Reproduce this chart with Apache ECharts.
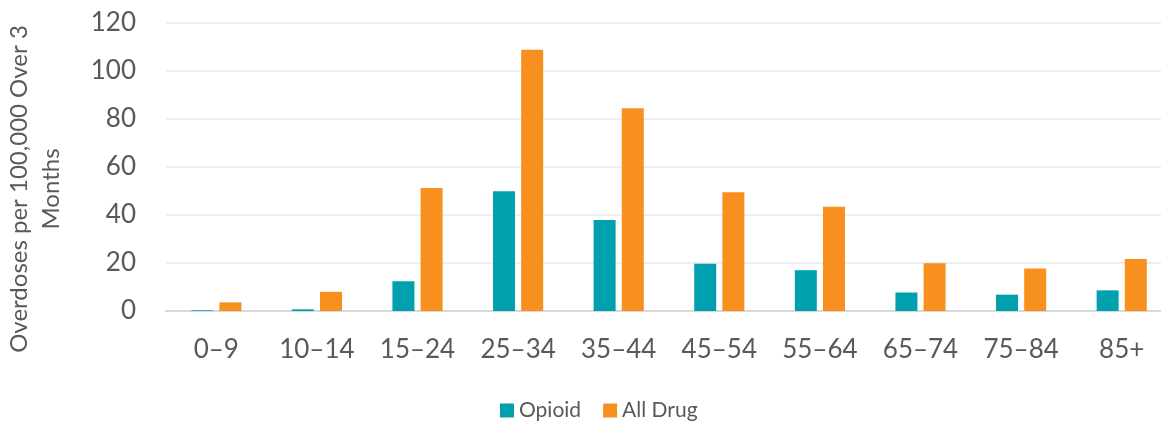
<!DOCTYPE html>
<html>
<head>
<meta charset="utf-8">
<script src="https://cdn.jsdelivr.net/npm/echarts@6/dist/echarts.min.js"></script>
<style>
  html, body { margin: 0; padding: 0; background: #ffffff; }
  #chart { width: 1161px; height: 421px; }
</style>
</head>
<body>
<div id="chart"></div>
<script>
// Age groups on the category axis
const ageGroups = ['0–9', '10–14', '15–24', '25–34', '35–44', '45–54', '55–64', '65–74', '75–84', '85+'];
// Overdose rates per 100,000 over 3 months
const opioidRates = [0.3, 0.7, 12.4, 49.9, 37.9, 19.7, 17.0, 7.7, 6.8, 8.6];
const allDrugRates = [3.6, 8.0, 51.3, 108.9, 84.5, 49.5, 43.4, 19.9, 17.7, 21.7];
// Value axis range
const yMin = 0, yMax = 120, yStep = 20;

const textColor = '#595959';
const fontFamily = 'Lato, "Open Sans", sans-serif';

const chart = echarts.init(document.getElementById('chart'), null, { renderer: 'canvas' });
chart.setOption({
  animation: false,
  backgroundColor: '#ffffff',
  textStyle: { fontFamily: fontFamily, color: textColor },
  grid: { left: 166, right: -11, top: 23, bottom: 110, containLabel: false, outerBoundsMode: 'none' },
  legend: {
    data: ['Opioid', 'All Drug'],
    left: 495,
    top: 395,
    icon: 'rect',
    itemWidth: 14,
    itemHeight: 14,
    itemGap: 22,
    textStyle: { fontFamily: fontFamily, fontSize: 21, color: textColor }
  },
  graphic: [{
    type: 'text',
    x: 35,
    y: 189,
    rotation: Math.PI / 2,
    style: {
      text: 'Overdoses per 100,000 Over 3\nMonths',
      fontFamily: fontFamily,
      fontSize: 24,
      lineHeight: 32,
      fill: textColor,
      align: 'center',
      verticalAlign: 'middle'
    }
  }],
  xAxis: {
    type: 'category',
    data: ageGroups,
    axisLine: { show: true, lineStyle: { color: '#D9D9D9', width: 2 } },
    axisTick: { show: false },
    axisLabel: { fontSize: 26, color: textColor, margin: 26, fontFamily: fontFamily, interval: 0 }
  },
  yAxis: {
    type: 'value',
    min: yMin,
    max: yMax,
    interval: yStep,
    axisLine: { show: false },
    axisTick: { show: false },
    axisLabel: { fontSize: 26, color: textColor, margin: 30, fontFamily: fontFamily },
    splitLine: { show: true, lineStyle: { color: '#EEEEEE', width: 2 } }
  },
  series: [
    {
      name: 'Opioid',
      type: 'bar',
      data: opioidRates,
      barWidth: 22,
      barGap: '28%',
      itemStyle: { color: '#00A0AE' }
    },
    {
      name: 'All Drug',
      type: 'bar',
      data: allDrugRates,
      barWidth: 22,
      barGap: '28%',
      itemStyle: { color: '#F7901E' }
    }
  ]
});
</script>
</body>
</html>
